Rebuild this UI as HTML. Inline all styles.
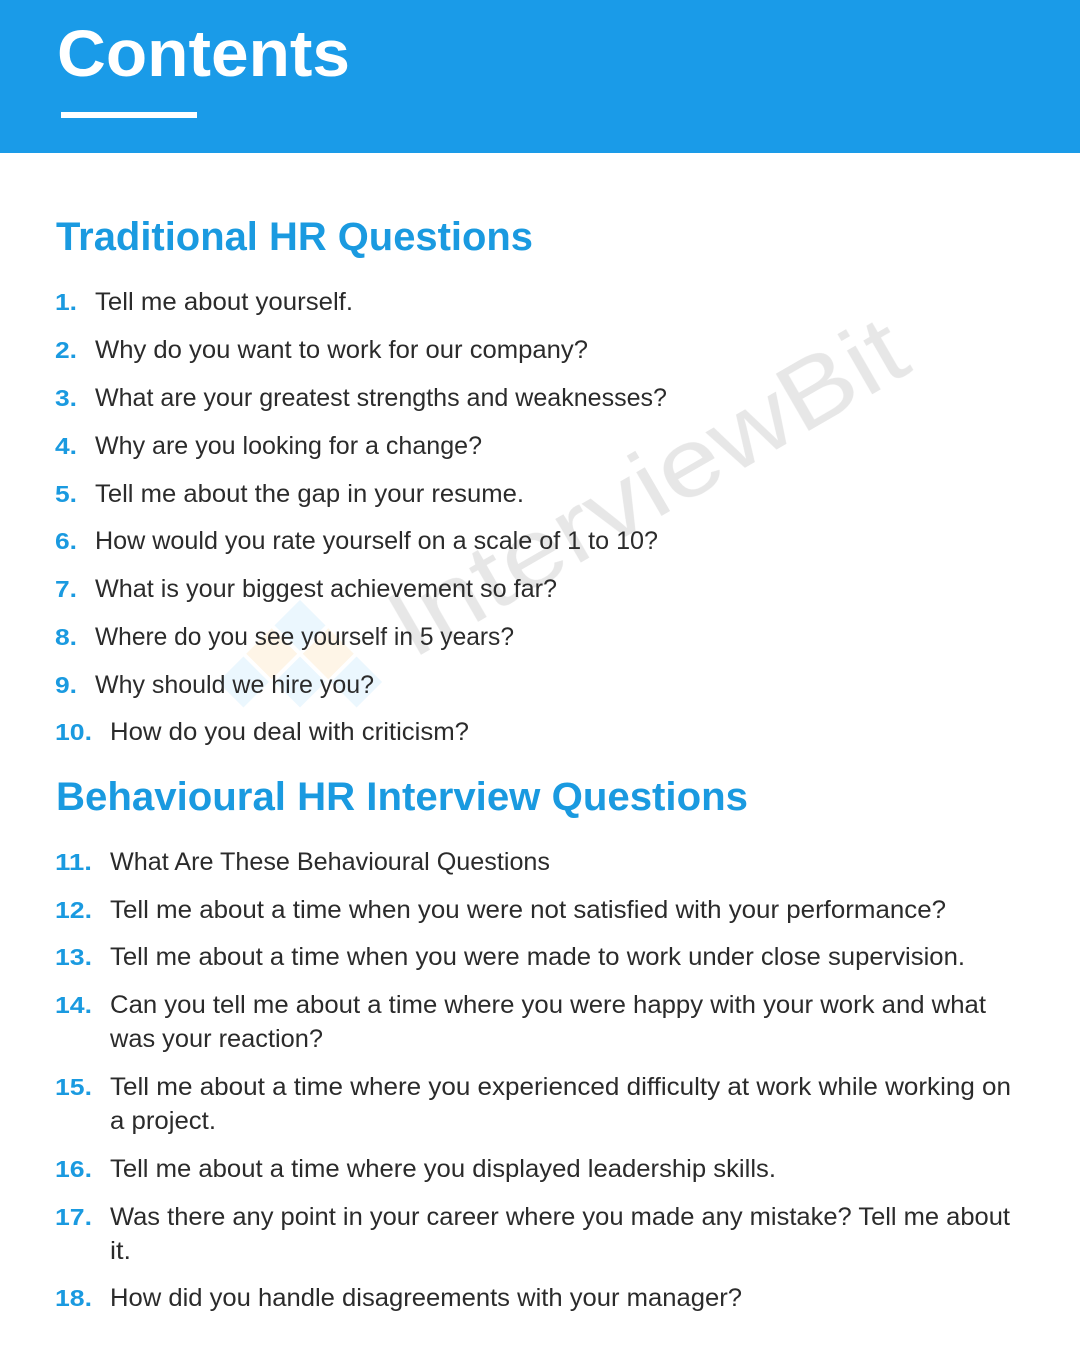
<!DOCTYPE html>
<html><head><meta charset="utf-8"><style>
html,body{margin:0;padding:0;background:#fff;}
svg{display:block;}
.t{font-family:"Liberation Sans",sans-serif;font-size:25px;fill:#2b2b2b;}
.n{font-family:"Liberation Sans",sans-serif;font-size:23px;font-weight:bold;fill:#1a9ae0;}
.h{font-family:"Liberation Sans",sans-serif;font-size:40px;font-weight:bold;fill:#1a9ae0;}
</style></head><body>
<svg width="1080" height="1350" viewBox="0 0 1080 1350">
<rect x="0" y="0" width="1080" height="153" fill="#1a9be8"/>
<text x="57" y="76" font-family="Liberation Sans,sans-serif" font-size="66" font-weight="bold" fill="#fff" textLength="293" lengthAdjust="spacingAndGlyphs">Contents</text>
<rect x="61" y="112" width="136" height="6" fill="#fff"/>
<g opacity="0.18">
<text x="0" y="0" transform="translate(412,660) rotate(-30)" font-family="Liberation Sans,sans-serif" font-size="96" fill="#777" textLength="580" lengthAdjust="spacingAndGlyphs">InterviewBit</text>
<g transform="translate(300,600) rotate(45)">
<rect x="0" y="0" width="36" height="36" fill="#8fd0f5"/><rect x="40" y="0" width="36" height="36" fill="#f5c37a"/>
<rect x="0" y="40" width="36" height="36" fill="#f5c37a"/><rect x="40" y="40" width="36" height="36" fill="#8fd0f5"/>
<rect x="80" y="0" width="36" height="36" fill="#8fd0f5"/><rect x="0" y="80" width="36" height="36" fill="#8fd0f5"/>
</g></g>
<text class="h" x="56" y="250" textLength="477" lengthAdjust="spacingAndGlyphs">Traditional HR Questions</text>
<text class="h" x="56" y="810" textLength="692" lengthAdjust="spacingAndGlyphs">Behavioural HR Interview Questions</text>
<g>
<text class="n" x="55" y="310" textLength="22" lengthAdjust="spacingAndGlyphs">1.</text><text class="t" x="95" y="310" textLength="258" lengthAdjust="spacingAndGlyphs">Tell me about yourself.</text>
<text class="n" x="55" y="358" textLength="22" lengthAdjust="spacingAndGlyphs">2.</text><text class="t" x="95" y="358" textLength="493" lengthAdjust="spacingAndGlyphs">Why do you want to work for our company?</text>
<text class="n" x="55" y="406" textLength="22" lengthAdjust="spacingAndGlyphs">3.</text><text class="t" x="95" y="406" textLength="572" lengthAdjust="spacingAndGlyphs">What are your greatest strengths and weaknesses?</text>
<text class="n" x="55" y="454" textLength="22" lengthAdjust="spacingAndGlyphs">4.</text><text class="t" x="95" y="454" textLength="387" lengthAdjust="spacingAndGlyphs">Why are you looking for a change?</text>
<text class="n" x="55" y="502" textLength="22" lengthAdjust="spacingAndGlyphs">5.</text><text class="t" x="95" y="502" textLength="429" lengthAdjust="spacingAndGlyphs">Tell me about the gap in your resume.</text>
<text class="n" x="55" y="549" textLength="22" lengthAdjust="spacingAndGlyphs">6.</text><text class="t" x="95" y="549" textLength="563" lengthAdjust="spacingAndGlyphs">How would you rate yourself on a scale of 1 to 10?</text>
<text class="n" x="55" y="597" textLength="22" lengthAdjust="spacingAndGlyphs">7.</text><text class="t" x="95" y="597" textLength="462" lengthAdjust="spacingAndGlyphs">What is your biggest achievement so far?</text>
<text class="n" x="55" y="645" textLength="22" lengthAdjust="spacingAndGlyphs">8.</text><text class="t" x="95" y="645" textLength="419" lengthAdjust="spacingAndGlyphs">Where do you see yourself in 5 years?</text>
<text class="n" x="55" y="693" textLength="22" lengthAdjust="spacingAndGlyphs">9.</text><text class="t" x="95" y="693" textLength="279" lengthAdjust="spacingAndGlyphs">Why should we hire you?</text>
<text class="n" x="55" y="740" textLength="37" lengthAdjust="spacingAndGlyphs">10.</text><text class="t" x="110" y="740" textLength="359" lengthAdjust="spacingAndGlyphs">How do you deal with criticism?</text>
<text class="n" x="55" y="870" textLength="37" lengthAdjust="spacingAndGlyphs">11.</text><text class="t" x="110" y="870" textLength="440" lengthAdjust="spacingAndGlyphs">What Are These Behavioural Questions</text>
<text class="n" x="55" y="918" textLength="37" lengthAdjust="spacingAndGlyphs">12.</text><text class="t" x="110" y="918" textLength="836" lengthAdjust="spacingAndGlyphs">Tell me about a time when you were not satisfied with your performance?</text>
<text class="n" x="55" y="965" textLength="37" lengthAdjust="spacingAndGlyphs">13.</text><text class="t" x="110" y="965" textLength="855" lengthAdjust="spacingAndGlyphs">Tell me about a time when you were made to work under close supervision.</text>
<text class="n" x="55" y="1013" textLength="37" lengthAdjust="spacingAndGlyphs">14.</text><text class="t" x="110" y="1013" textLength="876" lengthAdjust="spacingAndGlyphs">Can you tell me about a time where you were happy with your work and what</text>
<text class="t" x="110" y="1047" textLength="213" lengthAdjust="spacingAndGlyphs">was your reaction?</text>
<text class="n" x="55" y="1095" textLength="37" lengthAdjust="spacingAndGlyphs">15.</text><text class="t" x="110" y="1095" textLength="901" lengthAdjust="spacingAndGlyphs">Tell me about a time where you experienced difficulty at work while working on</text>
<text class="t" x="110" y="1129" textLength="106" lengthAdjust="spacingAndGlyphs">a project.</text>
<text class="n" x="55" y="1177" textLength="37" lengthAdjust="spacingAndGlyphs">16.</text><text class="t" x="110" y="1177" textLength="666" lengthAdjust="spacingAndGlyphs">Tell me about a time where you displayed leadership skills.</text>
<text class="n" x="55" y="1225" textLength="37" lengthAdjust="spacingAndGlyphs">17.</text><text class="t" x="110" y="1225" textLength="900" lengthAdjust="spacingAndGlyphs">Was there any point in your career where you made any mistake? Tell me about</text>
<text class="t" x="110" y="1259" textLength="21" lengthAdjust="spacingAndGlyphs">it.</text>
<text class="n" x="55" y="1306" textLength="37" lengthAdjust="spacingAndGlyphs">18.</text><text class="t" x="110" y="1306" textLength="632" lengthAdjust="spacingAndGlyphs">How did you handle disagreements with your manager?</text>
</g>
</svg>
</body></html>
